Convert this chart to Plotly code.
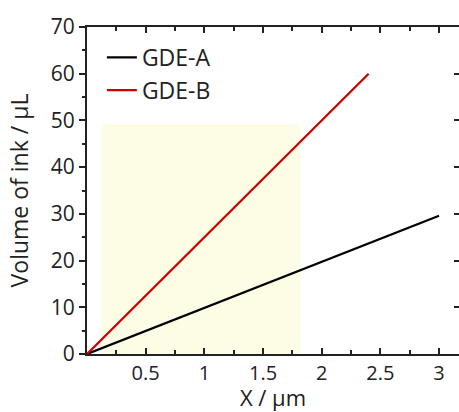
import plotly.graph_objects as go

# data
gde_a_x = [0, 3.0]
gde_a_y = [0, 29.6]
gde_b_x = [0, 2.4]
gde_b_y = [0, 60.0]
shade_x = [0.12, 1.82]
shade_y = [0, 49.2]

FONT = "Open Sans"
AX = "#222222"

fig = go.Figure()
fig.add_trace(go.Scatter(x=gde_a_x, y=gde_a_y, mode="lines", name="GDE-A",
                         line=dict(color="black", width=2.3)))
fig.add_trace(go.Scatter(x=gde_b_x, y=gde_b_y, mode="lines", name="GDE-B",
                         line=dict(color="#cc0000", width=2.3)))
# dummy trace for right axis
fig.add_trace(go.Scatter(x=[None], y=[None], yaxis="y2", showlegend=False))

fig.add_shape(type="rect", xref="x", yref="y", x0=shade_x[0], x1=shade_x[1],
              y0=shade_y[0], y1=shade_y[1], fillcolor="#fdfde6", line_width=0,
              layer="below")

fig.update_layout(
    width=459, height=412,
    margin=dict(l=87, r=0, t=27, b=58),
    paper_bgcolor="white", plot_bgcolor="white",
    font=dict(family=FONT, size=21, color="#222222"),
    showlegend=True,
    legend=dict(x=0.04, y=0.973, xanchor="left", yanchor="top",
                bgcolor="rgba(0,0,0,0)", font=dict(size=23), itemwidth=30),
    xaxis=dict(range=[0, 3.17], tickvals=[0.5, 1, 1.5, 2, 2.5, 3],
               ticktext=["0.5", "1", "1.5", "2", "2.5", "3"],
               ticks="inside", ticklen=6, tickwidth=2, tickcolor=AX,
               minor=dict(tickvals=[0.25, 0.75, 1.25, 1.75, 2.25, 2.75], ticks="inside",
                          ticklen=4, tickwidth=2, tickcolor=AX),
               showline=True, linewidth=2, linecolor=AX, mirror="ticks",
               showgrid=False, zeroline=False,
               title=dict(text="X / µm", font=dict(size=22), standoff=5),
               tickfont=dict(size=20)),
    yaxis=dict(range=[0, 70], dtick=10, tick0=0,
               ticks="outside", ticklen=6, tickwidth=2, tickcolor=AX,
               minor=dict(dtick=5, ticks="outside", ticklen=3, tickwidth=2, tickcolor=AX),
               showline=True, linewidth=2, linecolor=AX, mirror=False,
               showgrid=False, zeroline=False,
               title=dict(text="Volume of ink / µL", font=dict(size=23), standoff=16),
               tickfont=dict(size=21)),
    yaxis2=dict(range=[0, 70], dtick=10, overlaying="y", side="right",
                ticks="inside", ticklen=5, tickwidth=2, tickcolor=AX,
                showticklabels=False, showline=False, showgrid=False, zeroline=False),
)

fig.write_html("out.html")
